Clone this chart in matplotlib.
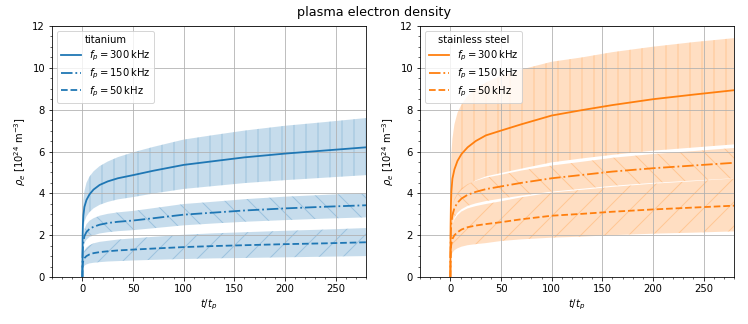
import matplotlib
matplotlib.use("Agg")
import matplotlib.pyplot as plt

# time axis t/t_p (sample points)
t = [0, 0.2, 0.5, 1, 2, 4, 7, 11, 17, 25, 35, 50, 70, 100, 130, 160, 200, 240, 280]

# titanium
ti_300 = [0, 1.8, 2.5, 2.95, 3.35, 3.68, 3.95, 4.18, 4.4, 4.57, 4.72, 4.87, 5.08, 5.36, 5.54, 5.72, 5.9, 6.05, 6.2]
ti_300_hi = [0, 2.7, 3.3, 3.7, 4.1, 4.5, 4.8, 5.05, 5.3, 5.52, 5.73, 5.96, 6.22, 6.57, 6.79, 7.0, 7.23, 7.41, 7.6]
ti_300_lo = [0, 1.41, 1.96, 2.32, 2.63, 2.89, 3.1, 3.28, 3.45, 3.59, 3.71, 3.82, 3.99, 4.21, 4.35, 4.49, 4.63, 4.75, 4.87]

ti_150 = [0, 1.0, 1.4, 1.7, 1.95, 2.15, 2.3, 2.4, 2.5, 2.58, 2.64, 2.7, 2.81, 2.98, 3.08, 3.18, 3.28, 3.36, 3.43]
ti_150_hi = [0, 1.17, 1.64, 1.99, 2.28, 2.52, 2.69, 2.81, 2.93, 3.02, 3.09, 3.16, 3.29, 3.49, 3.6, 3.72, 3.84, 3.93, 4.01]
ti_150_lo = [0, 0.83, 1.16, 1.41, 1.62, 1.78, 1.91, 1.99, 2.08, 2.14, 2.19, 2.24, 2.33, 2.47, 2.56, 2.64, 2.72, 2.79, 2.85]

ti_50 = [0, 0.5, 0.68, 0.8, 0.9, 1.0, 1.08, 1.14, 1.19, 1.23, 1.27, 1.31, 1.36, 1.43, 1.48, 1.52, 1.57, 1.61, 1.66]
ti_50_hi = [0, 0.71, 0.96, 1.13, 1.27, 1.41, 1.52, 1.61, 1.68, 1.73, 1.79, 1.85, 1.92, 2.02, 2.09, 2.14, 2.21, 2.27, 2.34]
ti_50_lo = [0, 0.3, 0.41, 0.48, 0.54, 0.6, 0.65, 0.68, 0.71, 0.74, 0.76, 0.79, 0.82, 0.86, 0.89, 0.91, 0.94, 0.97, 1.0]

# stainless steel
ss_300 = [0, 2.4, 3.4, 4.1, 4.7, 5.15, 5.55, 5.88, 6.2, 6.5, 6.77, 7.0, 7.3, 7.72, 7.98, 8.22, 8.5, 8.72, 8.93]
ss_300_hi = [0, 4.2, 5.2, 5.9, 6.6, 7.3, 7.85, 8.25, 8.65, 9.0, 9.3, 9.62, 9.92, 10.29, 10.5, 10.75, 11.01, 11.23, 11.42]
ss_300_lo = [0, 1.7, 2.41, 2.91, 3.34, 3.66, 3.94, 4.17, 4.4, 4.62, 4.81, 4.97, 5.18, 5.48, 5.67, 5.84, 6.04, 6.19, 6.34]

ss_150 = [0, 1.6, 2.2, 2.6, 2.95, 3.3, 3.55, 3.75, 3.93, 4.07, 4.2, 4.33, 4.5, 4.72, 4.88, 5.04, 5.2, 5.33, 5.46]
ss_150_hi = [0, 1.81, 2.49, 2.94, 3.33, 3.73, 4.01, 4.24, 4.44, 4.6, 4.75, 4.89, 5.09, 5.33, 5.51, 5.7, 5.88, 6.02, 6.17]
ss_150_lo = [0, 1.38, 1.9, 2.25, 2.55, 2.85, 3.07, 3.24, 3.4, 3.52, 3.63, 3.75, 3.89, 4.08, 4.22, 4.36, 4.5, 4.61, 4.72]

ss_50 = [0, 1.0, 1.4, 1.6, 1.82, 2.0, 2.14, 2.27, 2.38, 2.46, 2.53, 2.62, 2.76, 2.93, 3.02, 3.12, 3.23, 3.32, 3.41]
ss_50_hi = [0, 1.38, 1.93, 2.21, 2.51, 2.76, 2.95, 3.13, 3.28, 3.39, 3.49, 3.62, 3.81, 4.04, 4.17, 4.31, 4.46, 4.58, 4.71]
ss_50_lo = [0, 0.64, 0.9, 1.02, 1.16, 1.28, 1.37, 1.45, 1.52, 1.57, 1.62, 1.72, 1.8, 1.88, 1.93, 2.0, 2.07, 2.12, 2.18]

freq_labels = [r"$f_p = 300\,\mathrm{kHz}$", r"$f_p = 150\,\mathrm{kHz}$", r"$f_p = 50\,\mathrm{kHz}$"]
materials = ["titanium", "stainless steel"]

panels = [
    (materials[0], "C0", [(ti_300, ti_300_lo, ti_300_hi), (ti_150, ti_150_lo, ti_150_hi), (ti_50, ti_50_lo, ti_50_hi)]),
    (materials[1], "C1", [(ss_300, ss_300_lo, ss_300_hi), (ss_150, ss_150_lo, ss_150_hi), (ss_50, ss_50_lo, ss_50_hi)]),
]
styles = ["-", "-.", "--"]
hatches = ["|", "\\", "/"]

fig = plt.figure(figsize=(748 / 72, 324 / 72), dpi=72)
ax1 = fig.add_axes([52 / 748, 1 - 277 / 324, 314 / 748, 251 / 324])
ax2 = fig.add_axes([420 / 748, 1 - 277 / 324, 314 / 748, 251 / 324])

for ax, (title, color, series) in zip([ax1, ax2], panels):
    for (y, lo, hi), ls, hatch, lab in zip(series, styles, hatches, freq_labels):
        ax.fill_between(t, lo, hi, facecolor=color, edgecolor=color, alpha=0.25,
                        hatch=hatch, linewidth=0)
        ax.plot(t, y, ls, color=color, label=lab, linewidth=1.8)
    ax.set_xlim(-30, 280)
    ax.set_ylim(0, 12)
    ax.minorticks_on()
    ax.grid(True, which="major")
    ax.set_xlabel(r"$t/t_p$")
    ax.set_ylabel(r"$\rho_e$ [$10^{24}$ m$^{-3}$]")
    ax.legend(title=title, loc="upper left", labelspacing=0.35)

fig.suptitle("plasma electron density", fontsize=12.7)
fig.savefig("out.png", dpi=72)
